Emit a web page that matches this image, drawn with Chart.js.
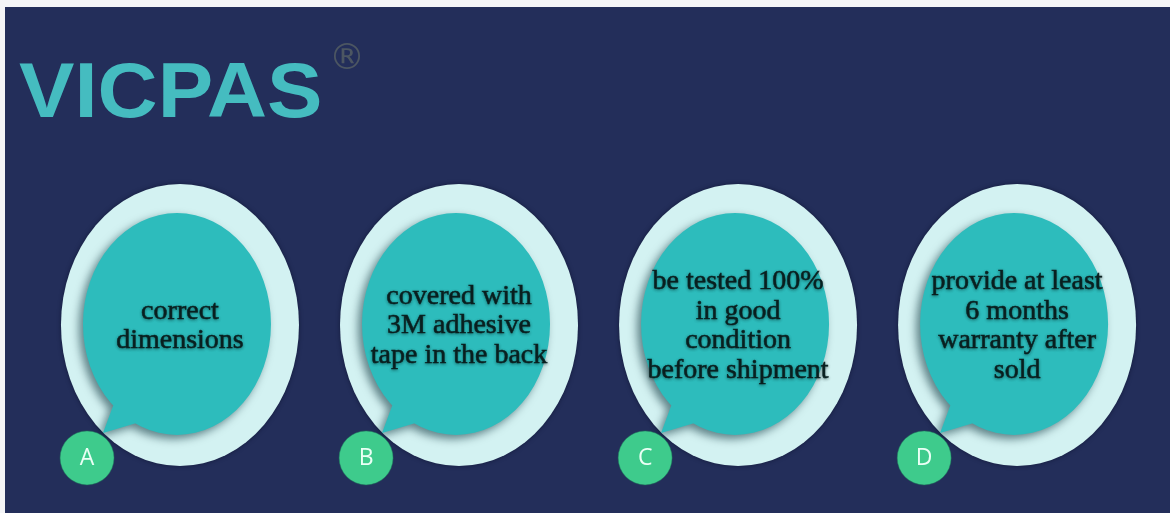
<!DOCTYPE html>
<html>
<head>
<meta charset="utf-8">
<script src="https://cdn.jsdelivr.net/npm/chart.js@4"></script>
<style>
  html, body { margin: 0; padding: 0; background: #ffffff; }
  #wrap { position: relative; width: 1170px; height: 513px; overflow: hidden; }
  #logo {
    position: absolute; left: 19px; top: 52px;
    font: bold 77px 'Liberation Sans', Arial, sans-serif;
    color: #45bcc0; line-height: 1;
    transform: scaleX(1.08); transform-origin: 0 0;
  }
  #reg {
    position: absolute; left: 329px; top: 36px;
    font: 36px 'DejaVu Sans', sans-serif; color: #4c5662;
  }
</style>
</head>
<body>
<div id="wrap">
  <canvas id="chart" width="1170" height="513"></canvas>
  <div id="logo">VICPAS</div>
  <div id="reg">®</div>
</div>
<script>
// data
const letters = ['A', 'B', 'C', 'D'];
const captions = [
    ['correct', 'dimensions'],
    ['covered with', '3M adhesive', 'tape in the back'],
    ['be tested 100%', 'in good', 'condition', 'before shipment'],
    ['provide at least', '6 months', 'warranty after', 'sold'],
];

// badge sits down-left of each bubble (in axis units)
const BADGE_DX = -0.333;
const BADGE_DY = -0.496;

const navy = '#232e5a';
const pale = '#d3f2f2';
const teal = '#2dbcbc';
const green = '#3ecb8c';

const bubblePlugin = {
    id: 'bubbles',
    beforeDraw(chart) {
        const ctx = chart.ctx;
        ctx.save();
        ctx.fillStyle = '#f4f5f7';
        ctx.fillRect(0, 0, chart.width, chart.height);
        ctx.fillStyle = navy;
        ctx.fillRect(5, 7, chart.width - 5, chart.height - 7);
        ctx.restore();
    },
    beforeDatasetsDraw(chart) {
        const ctx = chart.ctx;
        const meta = chart.getDatasetMeta(0);
        meta.data.forEach((pt, i) => {
            const cx = pt.x, cy = pt.y;
            ctx.save();
            // outer pale ring
            ctx.shadowColor = 'rgba(10,15,40,0.6)';
            ctx.shadowBlur = 4;
            ctx.fillStyle = pale;
            ctx.beginPath();
            ctx.ellipse(cx, cy + 1, 119, 141, 0, 0, Math.PI * 2);
            ctx.fill();
            ctx.restore();

            // teal speech bubble with shadow (tail wound the same way as the ellipse)
            ctx.save();
            ctx.shadowColor = 'rgba(0,40,50,0.55)';
            ctx.shadowBlur = 9;
            ctx.shadowOffsetX = -4;
            ctx.shadowOffsetY = 4;
            ctx.fillStyle = teal;
            ctx.beginPath();
            ctx.ellipse(cx - 3, cy, 94, 111, 0, 0, Math.PI * 2);
            ctx.moveTo(cx - 30, cy + 95);
            ctx.lineTo(cx - 77, cy + 109);
            ctx.lineTo(cx - 64, cy + 74);
            ctx.closePath();
            ctx.fill();
            ctx.restore();

            // caption
            const lines = captions[i];
            const lh = 29.5;
            ctx.save();
            ctx.fillStyle = '#0a2020';
            ctx.strokeStyle = '#0a2020';
            ctx.lineWidth = 0.5;
            ctx.font = '28px "Liberation Serif", "Times New Roman", serif';
            ctx.textAlign = 'center';
            ctx.textBaseline = 'middle';
            ctx.shadowColor = 'rgba(0,30,30,0.45)';
            ctx.shadowBlur = 3;
            ctx.shadowOffsetY = 1;
            const top = cy + 2 - (lines.length - 1) * lh / 2;
            lines.forEach((t, k) => {
                ctx.fillText(t, cx, top + k * lh);
                ctx.strokeText(t, cx, top + k * lh);
            });
            ctx.restore();
        });
    },
    afterDatasetsDraw(chart) {
        const ctx = chart.ctx;
        const meta = chart.getDatasetMeta(1);
        meta.data.forEach((pt, i) => {
            ctx.save();
            ctx.fillStyle = '#eafff5';
            ctx.font = '23px "Open Sans", "Noto Sans", sans-serif';
            ctx.textAlign = 'center';
            ctx.textBaseline = 'middle';
            ctx.fillText(letters[i], pt.x, pt.y + 1);
            ctx.restore();
        });
    }
};

new Chart(document.getElementById('chart'), {
    type: 'scatter',
    data: {
        datasets: [
            {
                label: 'bubbles',
                data: letters.map((l, i) => ({ x: i, y: 0 })),
                pointRadius: 0,
                pointHoverRadius: 0,
            },
            {
                label: 'badges',
                data: letters.map((l, i) => ({ x: i + BADGE_DX, y: BADGE_DY })),
                pointRadius: 27,
                pointHoverRadius: 27,
                backgroundColor: green,
                borderColor: 'rgba(30,120,90,0.5)',
                borderWidth: 1,
            },
        ],
    },
    options: {
        responsive: false,
        animation: false,
        layout: { padding: 0, autoPadding: false },
        plugins: {
            legend: { display: false },
            tooltip: { enabled: false },
        },
        scales: {
            x: { type: 'linear', display: false, min: -0.645, max: 3.548 },
            y: { type: 'linear', display: false, min: -0.7, max: 1.2 },
        },
    },
    plugins: [bubblePlugin],
});
</script>
</body>
</html>
